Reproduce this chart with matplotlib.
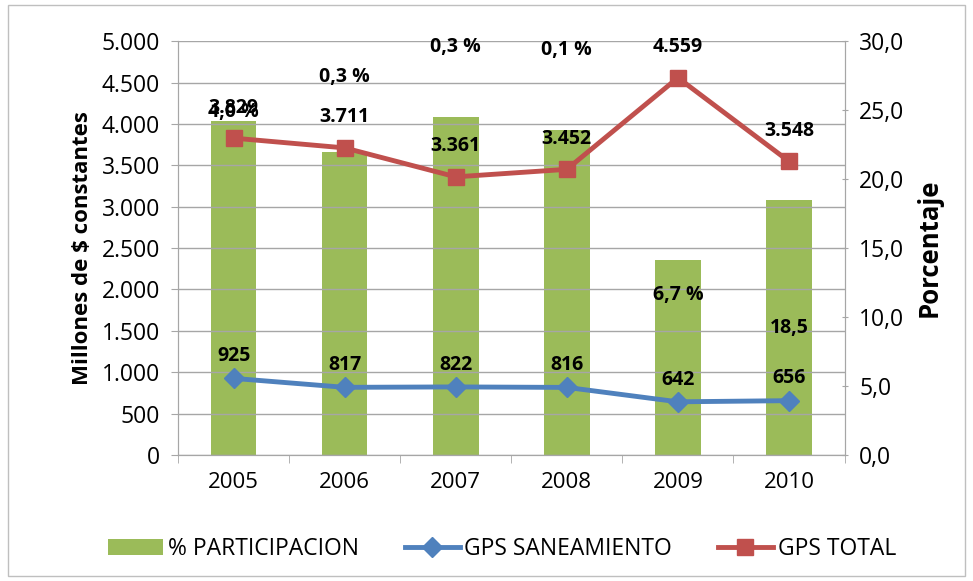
import matplotlib.pyplot as plt
import numpy as np
from matplotlib.patches import Rectangle

years = ["2005", "2006", "2007", "2008", "2009", "2010"]
participacion = [24.2, 22.0, 24.5, 23.6, 14.1, 18.5]
part_labels = ["4,0 %", "0,3 %", "0,3 %", "0,1 %", "6,7 %", "18,5"]
part_label_y = [24.9, 27.4, 29.6, 29.4, 11.6, 9.2]
gps_saneamiento = [925, 817, 822, 816, 642, 656]
gps_total = [3829, 3711, 3361, 3452, 4559, 3548]

GREEN = "#9bbb59"
BLUE = "#4f81bd"
RED = "#c0504d"
GRID = "#a6a6a6"

plt.rcParams["font.family"] = ["Open Sans", "DejaVu Sans"]


def fmt_thousands(v):
    return f"{v:,.0f}".replace(",", ".")


fig = plt.figure(figsize=(9.73, 5.81), dpi=100)
fig.patches.append(Rectangle((0.008, 0.008), 0.984, 0.984, transform=fig.transFigure,
                             fill=False, edgecolor="#bfbfbf", linewidth=1))

ax = fig.add_axes([0.183, 0.217, 0.685, 0.712])
ax2 = ax.twinx()
x = np.arange(len(years))

# bars on the secondary (percent) axis, lines on primary
ax2.bar(x, participacion, width=0.41, color=GREEN, zorder=1, label="% PARTICIPACION")
ax.set_zorder(ax2.get_zorder() + 1)
ax.patch.set_visible(False)

ax.plot(x, gps_saneamiento, color=BLUE, lw=3.5, marker="D", ms=10,
        label="GPS SANEAMIENTO", zorder=3)
ax.plot(x, gps_total, color=RED, lw=3.5, marker="s", ms=12,
        label="GPS TOTAL", zorder=3)

for xi, v in zip(x, gps_saneamiento):
    ax.annotate(fmt_thousands(v), (xi, v), xytext=(0, 16), textcoords="offset points",
                ha="center", va="center", fontsize=14, fontweight="bold", zorder=5)
for xi, v in zip(x, gps_total):
    ax.annotate(fmt_thousands(v), (xi, v), xytext=(0, 22), textcoords="offset points",
                ha="center", va="center", fontsize=14, fontweight="bold", zorder=5)
for xi, lbl, yy in zip(x, part_labels, part_label_y):
    ax.text(xi, yy, lbl, transform=ax2.transData, ha="center", va="center",
            fontsize=14, fontweight="bold", zorder=5, clip_on=False)

ax.set_xlim(-0.5, 5.5)
ax.set_ylim(0, 5000)
ax2.set_ylim(0, 30)
ax.set_yticks(np.arange(0, 5001, 500))
ax.set_yticklabels([fmt_thousands(v) for v in np.arange(0, 5001, 500)])
ax2.set_yticks(np.arange(0, 30.1, 5))
ax2.set_yticklabels([f"{v:.1f}".replace(".", ",") for v in np.arange(0, 30.1, 5)])
ax.set_xticks(x)
ax.set_xticklabels(years)
ax.set_xticks(np.arange(-0.5, 5.6, 1), minor=True)
ax.tick_params(axis="x", which="major", length=0, pad=12, labelsize=16)
ax.tick_params(axis="x", which="minor", length=6, color=GRID, direction="out")
ax.tick_params(axis="y", length=5, color=GRID, labelsize=16.5, pad=8)
ax2.tick_params(axis="y", length=5, color=GRID, labelsize=16.5, direction="inout", pad=8)

ax.grid(axis="y", color=GRID, lw=1)
ax.set_axisbelow(True)
for a in (ax, ax2):
    a.spines["top"].set_visible(False)
    for s in ("left", "right", "bottom"):
        a.spines[s].set_color(GRID)
ax.set_ylabel("Millones de $ constantes", fontsize=16, fontweight="bold", labelpad=6)
ax2.set_ylabel("Porcentaje", fontsize=18.5, fontweight="bold", labelpad=8)

h1, l1 = ax2.get_legend_handles_labels()
h2, l2 = ax.get_legend_handles_labels()
fig.legend(h1 + h2, l1 + l2, loc="center", bbox_to_anchor=(0.516, 0.055), ncol=3,
           frameon=False, fontsize=16.5, handlelength=2.4, columnspacing=2.0,
           handletextpad=0.2)

fig.savefig("out.png", dpi=100)
